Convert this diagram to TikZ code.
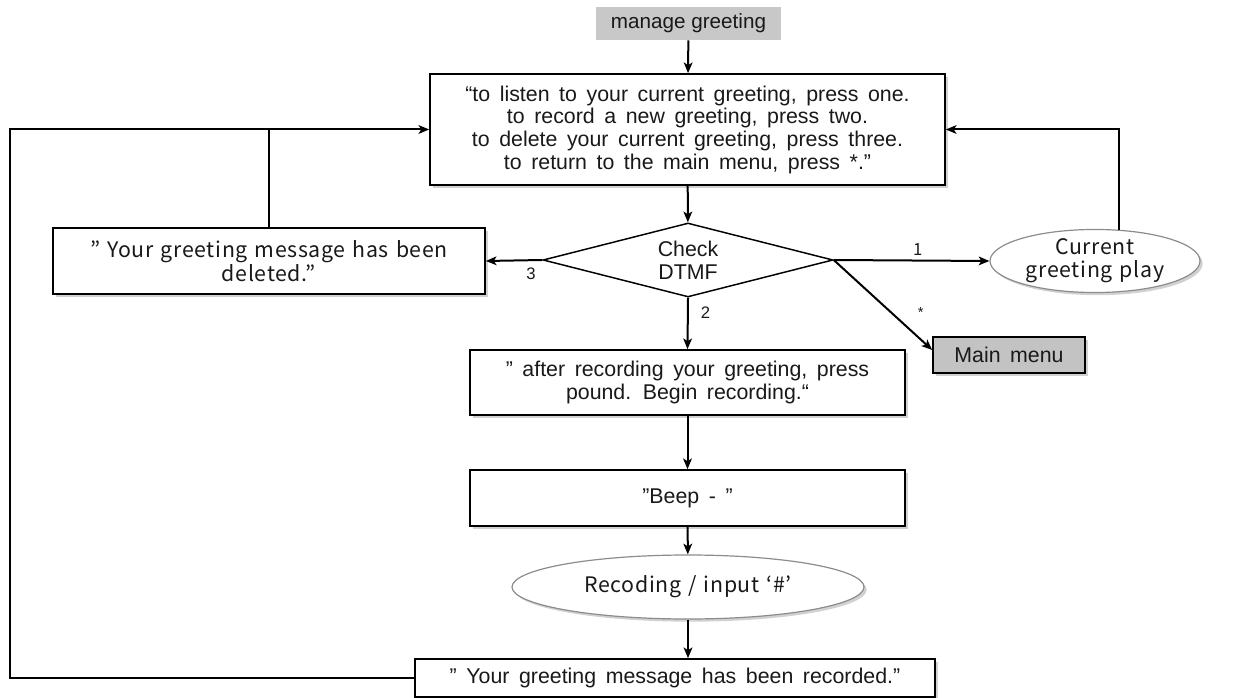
\documentclass[tikz,border=0pt]{standalone}
\usepackage{fontspec}
\setmainfont{Liberation Sans}
\newfontfamily\kr[LetterSpace=3]{Noto Sans CJK KR}
\usetikzlibrary{shapes.geometric,arrows.meta,shadows}
\definecolor{gbox}{RGB}{200,200,200}
\definecolor{mbox}{RGB}{195,195,195}
\definecolor{txt}{RGB}{25,25,25}
\newcommand\myws{\spaceskip=0.45em plus 0.1em\relax}
\newcommand\krws{\spaceskip=0.33em plus 0.1em\relax}
\begin{document}
\begin{tikzpicture}[x=0.75pt,y=-0.75pt,
  every node/.style={text=txt},
  base/.style={align=center,inner sep=0pt,font=\fontsize{16}{17}\selectfont\myws},
  krf/.style={font=\kr\fontsize{16}{17.5}\selectfont\krws},
  shad/.style={drop shadow={shadow xshift=2pt,shadow yshift=-2pt,opacity=0.18,fill=black}},
  box/.style={base,draw,line width=1.2pt,fill=white,shad},
  oval/.style={base,ellipse,draw=black!45,line width=0.9pt,fill=white,shad},
  conn/.style={line width=1.5pt},
  arr/.style={conn,-{Stealth[length=8pt,width=6.5pt,inset=2pt]}},
  lbl/.style={font=\fontsize{12.5}{13}\selectfont,inner sep=1pt}]
\useasboundingbox (0,0) rectangle (1256,698);

\node[base,font=\fontsize{15.5}{17}\selectfont,fill=gbox,minimum width=138.75pt,minimum height=24.75pt] (mg) at (688.5,23.5) {manage greeting};
\node[box,minimum width=386.25pt,minimum height=83.25pt] (main) at (687.5,129.5)
  {“to listen to your current greeting, press one.\\
   to record a new greeting, press two.\\
   to delete your current greeting, press three.\\
   to return to the main menu, press *.”};
\node[base,diamond,draw,line width=1.1pt,fill=white,aspect=3.9,minimum width=217.5pt,minimum height=55.5pt] (dtmf) at (688,260) {Check\\DTMF};
\node[box,krf,minimum width=324pt,minimum height=49.5pt] (del) at (269,261)
  {” Your greeting message has been\\deleted.”};
\node[oval,krf,minimum width=157.5pt,minimum height=45pt] (play) at (1095,261) {Current\\greeting play};
\node[box,fill=mbox,minimum width=114pt,minimum height=27pt] (mm) at (1009,355) {Main menu};
\node[box,minimum width=326.25pt,minimum height=48.75pt] (rec) at (687.5,382.5)
  {” after recording your greeting, press\\pound. Begin recording.“};
\node[box,minimum width=326.25pt,minimum height=42pt] (beep) at (687.5,498) {”Beep - ”};
\node[oval,krf,minimum width=264pt,minimum height=48pt] (inp) at (688,587) {Recoding / input ‘\#’};
\node[box,minimum width=390pt,minimum height=28.5pt] (bot) at (675,678) {” Your greeting message has been recorded.”};

\coordinate (L) at (10,129.5);

\draw[arr] (mg) -- (main);
\draw[arr] (main) -- (dtmf);
\draw[arr] (dtmf.west) -- node[lbl,pos=0.2,below=4pt]{3} (del.east);
\draw[arr] (dtmf.east) -- node[lbl,font=\kr\fontsize{12.5}{13}\selectfont,pos=0.54,above=2pt]{1} (play.west);
\draw[arr] (dtmf.east) -- node[lbl,font=\fontsize{11}{12}\selectfont,pos=0.75,above right=6pt]{*} ([yshift=3.75pt]mm.west);
\draw[arr] (dtmf.south) -- node[lbl,pos=0.3,right=8pt]{2} (rec.north);
\draw[arr] (rec) -- (beep);
\draw[arr] (beep) -- (inp);
\draw[arr] (inp.south) -- (inp.south |- bot.north);
\draw[arr] (bot.west) -- (bot.west -| L) -- (L) -- (main.west);
\draw[conn] (del.north) -- (del.north |- main.west);
\draw[arr] (play.52) -- (play.52 |- main.east) -- (main.east);
\end{tikzpicture}
\end{document}
